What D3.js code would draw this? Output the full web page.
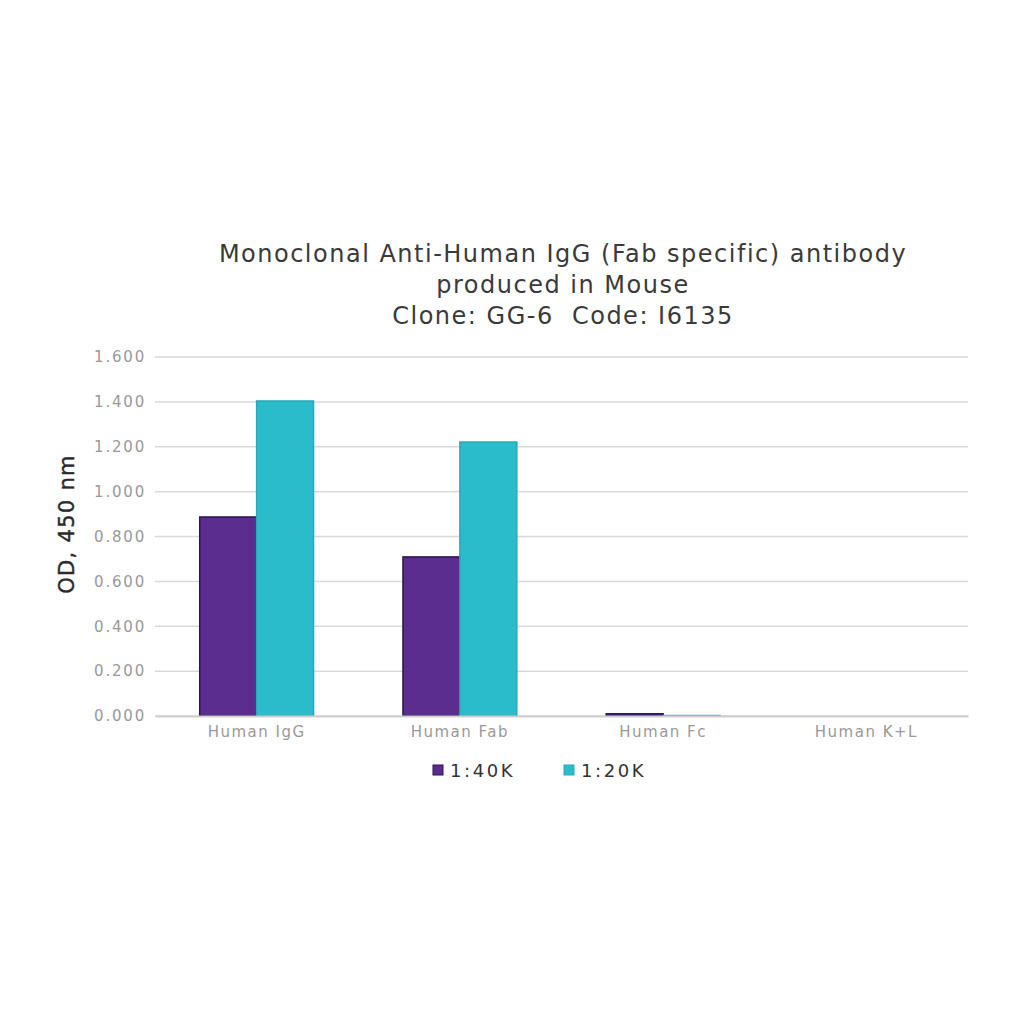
<!DOCTYPE html>
<html><head><meta charset="utf-8">
<script src="https://cdn.jsdelivr.net/npm/d3@7"></script>
<style>body{margin:0;background:#fff}svg{display:block}text{white-space:pre}</style>
</head><body>
<svg id="c" width="1024" height="1024"></svg>
<script>
const categories = ["Human IgG", "Human Fab", "Human Fc", "Human K+L"];
const seriesNames = ["1:40K", "1:20K"];
const values40K = [0.887, 0.709, 0.010, 0.000];
const values20K = [1.404, 1.221, 0.002, 0.000];
const yTicks = [0, 0.2, 0.4, 0.6, 0.8, 1.0, 1.2, 1.4, 1.6];
const titleLines = ["Monoclonal Anti-Human IgG (Fab specific) antibody", "produced in Mouse", "Clone: GG-6  Code: I6135"];
const colors = ["#5b2d8e", "#2bbccb"];
const strokes = ["#2a1650", "#2aa8b8"];

const svg = d3.select("#c");
const font = "DejaVu Sans, Verdana, sans-serif";
const m = {l:155, r:968, t:357, b:716};
const x = d3.scaleBand().domain(categories).range([m.l, m.r]).paddingInner(0.44).paddingOuter(0.22);
const xs = d3.scaleBand().domain(seriesNames).range([0, x.bandwidth()]);
const y = d3.scaleLinear().domain([0, 1.6]).range([m.b, m.t]);

// gridlines
svg.append("g").selectAll("line").data(yTicks).join("line")
  .attr("x1", m.l).attr("x2", m.r)
  .attr("y1", d => y(d)).attr("y2", d => y(d))
  .attr("stroke", "#d9d9d9").attr("stroke-width", 1.5);

// y axis labels
const yAxis = d3.axisLeft(y).tickValues(yTicks).tickFormat(d3.format(".3f")).tickSize(0).tickPadding(9);
const ga = svg.append("g").attr("transform", `translate(${m.l},0)`).call(yAxis);
ga.select(".domain").remove();
ga.selectAll("text").attr("font-family", font).attr("font-size", 15).attr("letter-spacing", 1.8).attr("fill", "#999");

// bars
const data = categories.map((c, i) => ({c, v: [values40K[i], values20K[i]]}));
const grp = svg.append("g").selectAll("g").data(data).join("g")
  .attr("transform", d => `translate(${x(d.c)},0)`);
grp.selectAll("rect").data(d => d.v.map((v, k) => ({v, k}))).join("rect")
  .attr("x", d => xs(seriesNames[d.k]))
  .attr("width", xs.bandwidth())
  .attr("y", d => y(d.v))
  .attr("height", d => y(0) - y(d.v))
  .attr("fill", d => colors[d.k])
  .attr("stroke", d => d.v > 0.001 ? strokes[d.k] : "none")
  .attr("stroke-width", 1.5);

// x axis
const xAxis = d3.axisBottom(x).tickSize(0).tickPadding(10);
const gx = svg.append("g").attr("transform", `translate(0,${m.b})`).call(xAxis);
gx.select(".domain").attr("stroke", "#d0d0d0").attr("stroke-width", 2);
gx.selectAll("text").attr("font-family", font).attr("font-size", 15).attr("letter-spacing", 1.5).attr("fill", "#999");

// y label
svg.append("text").attr("transform", `translate(74,524) rotate(-90)`)
  .attr("text-anchor", "middle").attr("font-family", font).attr("font-size", 21)
  .attr("letter-spacing", 1.3)
  .attr("fill", "#2a2a2a").attr("stroke", "#2a2a2a").attr("stroke-width", 0.4)
  .text("OD, 450 nm");

// title
svg.append("g").selectAll("text").data(titleLines).join("text")
  .attr("x", 563).attr("y", (d, i) => 262 + i * 31)
  .attr("text-anchor", "middle").attr("font-family", font).attr("font-size", 24)
  .attr("letter-spacing", 1.5)
  .attr("fill", "#3a3a3a").text(d => d);

// legend
const leg = svg.append("g").selectAll("g").data(seriesNames).join("g")
  .attr("transform", (d, i) => `translate(${433 + i * 131},770)`);
leg.append("rect").attr("x", 0).attr("y", -5).attr("width", 10).attr("height", 10)
  .attr("fill", (d, i) => colors[i]).attr("stroke", (d, i) => strokes[i]);
leg.append("text").attr("x", 17).attr("y", 7).attr("font-family", font).attr("font-size", 18)
  .attr("letter-spacing", 2.6)
  .attr("fill", "#333").text(d => d);
</script>
</body></html>
